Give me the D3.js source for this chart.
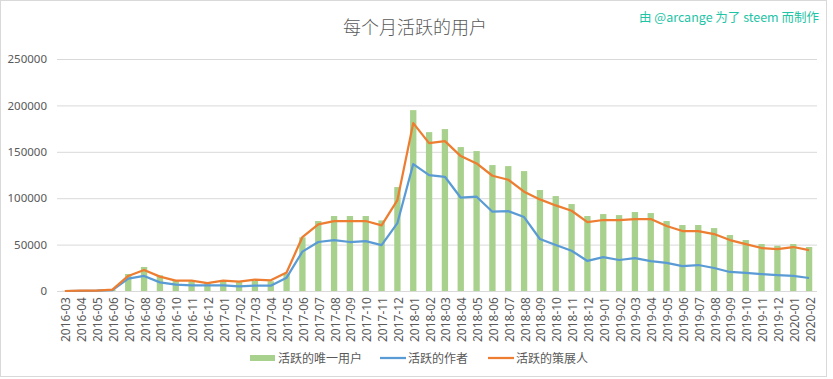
<!DOCTYPE html>
<html><head><meta charset="utf-8">
<script src="https://cdn.jsdelivr.net/npm/d3@7"></script>
<style>
body{margin:0;background:#fff;}
svg{display:block;font-family:"Noto Sans CJK SC","Noto Sans",sans-serif;}
</style></head>
<body><svg id="c" width="833" height="379"></svg>
<script>
const months = ["2016-03","2016-04","2016-05","2016-06","2016-07","2016-08","2016-09","2016-10","2016-11","2016-12",
"2017-01","2017-02","2017-03","2017-04","2017-05","2017-06","2017-07","2017-08","2017-09","2017-10","2017-11","2017-12",
"2018-01","2018-02","2018-03","2018-04","2018-05","2018-06","2018-07","2018-08","2018-09","2018-10","2018-11","2018-12",
"2019-01","2019-02","2019-03","2019-04","2019-05","2019-06","2019-07","2019-08","2019-09","2019-10","2019-11","2019-12",
"2020-01","2020-02"];
const uniqueUsers = [200,500,700,1500,18300,25900,16900,11000,10500,9000,
10500,9500,11000,10500,19000,57800,75400,80800,80800,80800,76100,112000,
194900,171200,174500,155100,150800,135700,134600,129200,108800,102300,93700,80800,
82900,81800,85100,84000,75400,71100,71100,67800,60300,54900,50600,48800,
50600,47400];
const authors = [0,200,300,1000,13300,16200,9300,6800,6100,6100,
6100,5000,5700,5700,14400,42400,52800,54900,52800,53800,49500,73200,
136800,124900,123100,100500,101600,85400,86100,79700,56000,49500,43400,32400,
36600,33400,35500,32300,30200,26900,28000,24800,20500,19400,18300,17200,
16200,14000];
const curators = [0,300,500,1500,16200,22700,15500,11200,11200,8600,
11200,10000,12200,11500,20000,58100,71800,75400,75400,75400,70700,98000,
180900,159400,161500,145400,137500,124200,119900,107000,98700,92200,86500,74300,
76500,76500,77500,77500,70000,64600,64600,61400,54900,50600,46300,45200,
47400,44100];
const yTicks = [0,50000,100000,150000,200000,250000];
const seriesNames = ["活跃的唯一用户","活跃的作者","活跃的策展人"];
const colors = ["#A9D18E","#5B9BD5","#ED7D31"];
const titleText = "每个月活跃的用户";
const creditText = "由 @arcange 为了 steem 而制作";

const svg = d3.select("#c");
svg.append("rect").attr("x",0.5).attr("y",0.5).attr("width",826).attr("height",376)
  .attr("fill","#fff").attr("stroke","#d9d9d9");

const L=57, R=817, T=59, B=291;
const x = d3.scaleBand().domain(months).range([L,R]).paddingInner(0.6).paddingOuter(0.3);
const xc = d3.scalePoint().domain(months).range([L,R]).padding(0.5);
const y = d3.scaleLinear().domain([0,250000]).range([B,T]);

// grid
const yAxis = d3.axisLeft(y).tickValues(yTicks).tickSize(-(R-L)).tickPadding(10).tickFormat(d3.format("d"));
const gy = svg.append("g").attr("transform",`translate(${L},0)`).call(yAxis);
gy.select(".domain").remove();
gy.selectAll("line").attr("stroke","#d9d9d9");
gy.selectAll("text").attr("fill","#595959").style("font-size","11.5px").style("font-family","'Noto Sans','Liberation Sans',sans-serif");

// bars
const xb = x.bandwidth();
svg.append("g").selectAll("rect").data(uniqueUsers).join("rect")
  .attr("x",(d,i)=>xc(months[i])-xb/2).attr("width",xb)
  .attr("y",d=>y(d)).attr("height",d=>B-y(d)).attr("fill",colors[0]);

// baseline
svg.append("line").attr("x1",L).attr("x2",R).attr("y1",B+0.5).attr("y2",B+0.5).attr("stroke","#d9d9d9");

// lines
const line = d3.line().x((d,i)=>xc(months[i])).y(d=>y(d));
[authors,curators].forEach((s,k)=>{
  svg.append("path").datum(s).attr("d",line).attr("fill","none")
    .attr("stroke",colors[k+1]).attr("stroke-width",2.25).attr("stroke-linejoin","round");
});

// x axis labels
const xAxis = d3.axisBottom(xc).tickSize(0).tickPadding(0);
const gx = svg.append("g").attr("transform",`translate(0,${B})`).call(xAxis);
gx.select(".domain").remove();
gx.selectAll("text").attr("fill","#595959").style("font-size","12px")
  .style("font-family","'Noto Sans','Liberation Sans',sans-serif")
  .attr("text-anchor","end").attr("transform","translate(5,6) rotate(-90)").attr("x",0).attr("y",0).attr("dy",0);

// title
svg.append("text").attr("x",415).attr("y",34).attr("text-anchor","middle")
  .attr("fill","#595959").style("font-size","18px").style("font-weight",300).text(titleText);
svg.append("text").attr("x",819).attr("y",22).attr("text-anchor","end")
  .attr("fill","#1EC4A6").style("font-size","12.5px").text(creditText);

// legend
const lg = svg.append("g").attr("transform","translate(0,358)");
lg.append("rect").attr("x",250).attr("y",-3).attr("width",25).attr("height",6).attr("fill",colors[0]);
lg.append("text").attr("x",278).attr("y",5).attr("fill","#595959").style("font-size","12px").text(seriesNames[0]);
lg.append("line").attr("x1",380).attr("x2",406).attr("y1",0).attr("y2",0).attr("stroke",colors[1]).attr("stroke-width",2.25);
lg.append("text").attr("x",408).attr("y",5).attr("fill","#595959").style("font-size","12px").text(seriesNames[1]);
lg.append("line").attr("x1",488).attr("x2",514).attr("y1",0).attr("y2",0).attr("stroke",colors[2]).attr("stroke-width",2.25);
lg.append("text").attr("x",516).attr("y",5).attr("fill","#595959").style("font-size","12px").text(seriesNames[2]);
</script></body></html>
